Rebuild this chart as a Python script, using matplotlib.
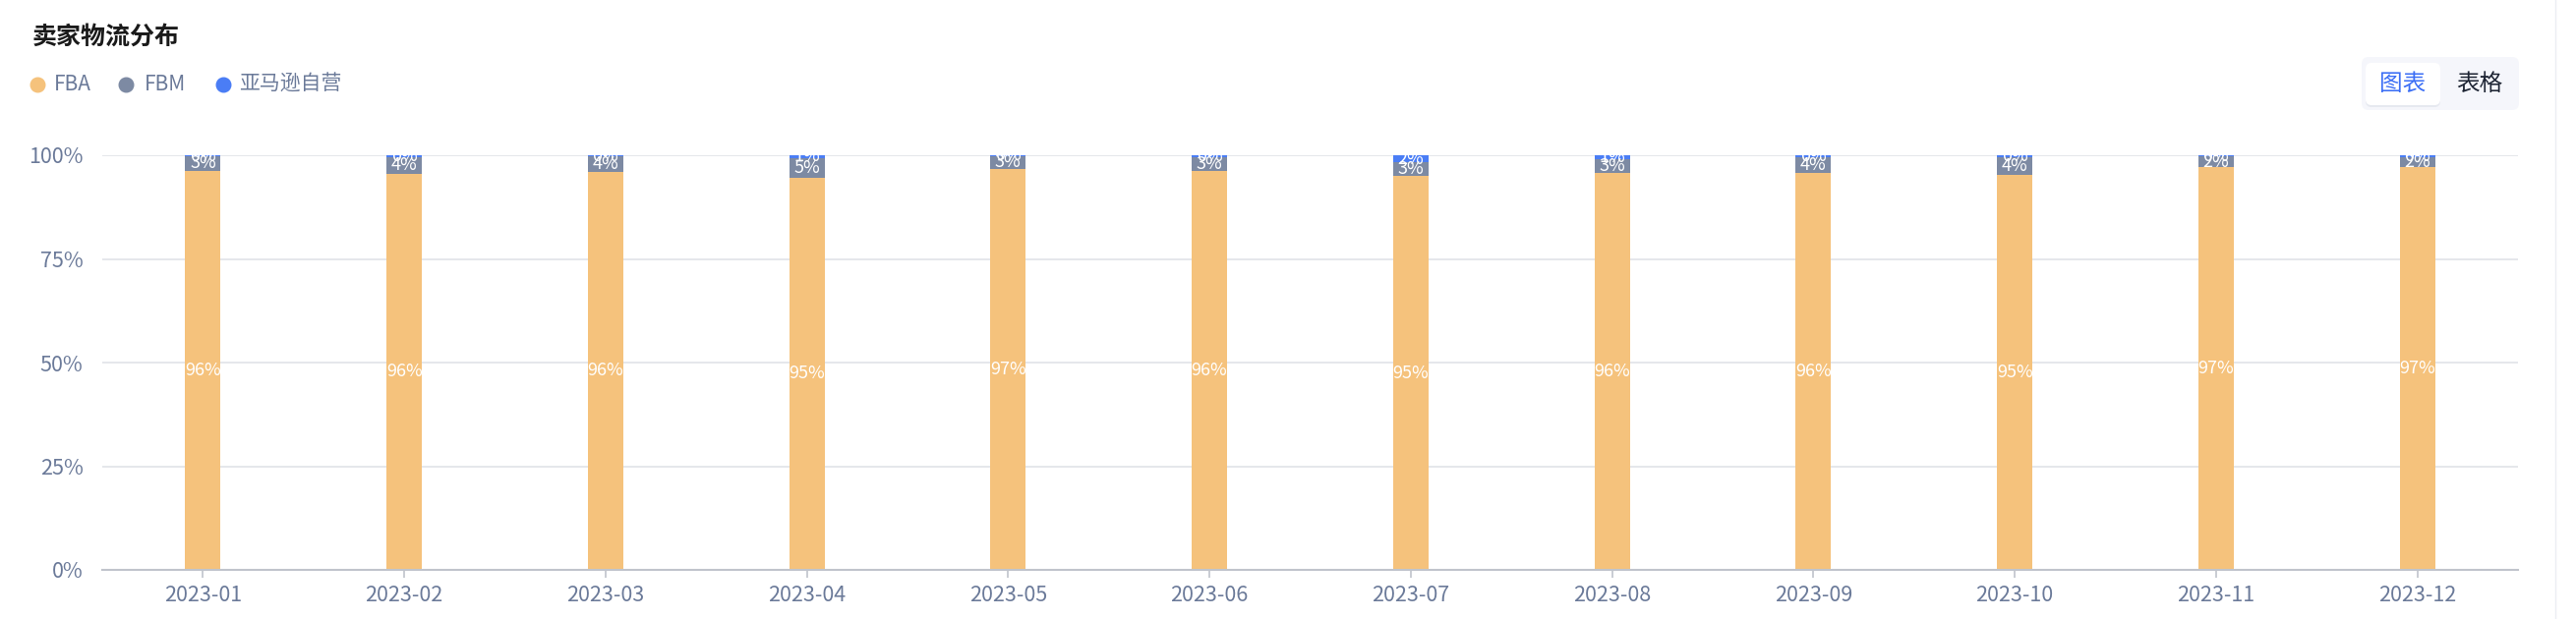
import matplotlib
matplotlib.use("Agg")
import matplotlib.pyplot as plt
import numpy as np
from matplotlib.patches import FancyBboxPatch
from matplotlib.lines import Line2D
from matplotlib.transforms import IdentityTransform

plt.rcParams['font.family'] = ['Noto Sans CJK SC', 'DejaVu Sans']

months = ["2023-01", "2023-02", "2023-03", "2023-04", "2023-05", "2023-06",
          "2023-07", "2023-08", "2023-09", "2023-10", "2023-11", "2023-12"]
fba = [96.3, 95.6, 96.0, 94.6, 96.8, 96.2, 95.0, 95.8, 95.8, 95.2, 97.2, 97.2]
fbm = [3.4, 4.0, 3.7, 4.8, 3.0, 3.4, 3.3, 3.3, 3.8, 4.4, 2.5, 2.4]
amz = [0.3, 0.4, 0.3, 0.6, 0.2, 0.4, 1.7, 0.9, 0.4, 0.4, 0.3, 0.4]
series_names = ["FBA", "FBM", "亚马逊自营"]
yticks = [0, 25, 50, 75, 100]

colors = ["#f5c27c", "#7d8aa3", "#4a7df5"]
tick_color = "#6b7a99"

W, H = 2620, 630
fig = plt.figure(figsize=(W / 100, H / 100), dpi=100)
ax = fig.add_axes([104 / W, (H - 580) / H, (2561 - 104) / W, 422 / H])

x = np.arange(len(months))
bw = 0.176
bottom = np.zeros(len(months))
for vals, col in zip([fba, fbm, amz], colors):
    vals = np.array(vals)
    ax.bar(x, vals, bw, bottom=bottom, color=col, edgecolor='none', zorder=3)
    for xi, b, v in zip(x, bottom, vals):
        ax.text(xi, b + v / 2, f"{round(v)}%", ha='center', va='center',
                color='white', fontsize=13, zorder=4, clip_on=True)
    bottom = bottom + vals

ax.set_xlim(-0.5, len(months) - 0.5)
ax.set_ylim(0, 100)
ax.set_yticks(yticks)
ax.set_yticklabels([f"{t}%" for t in yticks])
ax.set_xticks(x)
ax.set_xticklabels(months)
ax.tick_params(axis='y', length=0, pad=14, labelsize=15.5, labelcolor=tick_color)
ax.tick_params(axis='x', length=6, width=1.2, color='#c0c4cc', pad=5,
               labelsize=15.5, labelcolor=tick_color)
ax.grid(axis='y', color='#e0e3e8', linewidth=1.2, zorder=0)
for s in ['top', 'right', 'left']:
    ax.spines[s].set_visible(False)
ax.spines['bottom'].set_color('#c0c4cc')
ax.spines['bottom'].set_linewidth(1.5)
ax.spines['bottom'].set_zorder(5)

# title
fig.text(33 / W, 1 - 38 / H, "卖家物流分布", fontsize=18, fontweight='bold',
         color='#1a1a1a', ha='left', va='center')

# legend
leg_items = [(38, 55), (128, 147), (227, 243)]
for (cx, tx), name, col in zip(leg_items, series_names, colors):
    fig.add_artist(Line2D([cx / W], [1 - 86 / H], marker='o', markersize=10.5,
                          color=col, linestyle='none', transform=fig.transFigure))
    fig.text(tx / W, 1 - 86 / H, name, fontsize=15, color=tick_color,
             ha='left', va='center')

# toggle buttons
outer = FancyBboxPatch((2402, H - 112), 160, 54, boxstyle="round,pad=0,rounding_size=7",
                       facecolor='#f5f6fb', edgecolor='none', transform=IdentityTransform())
shadow = FancyBboxPatch((2406, H - 109), 76, 44, boxstyle="round,pad=0,rounding_size=6",
                        facecolor='#e6e9f0', edgecolor='none', transform=IdentityTransform())
inner = FancyBboxPatch((2406, H - 107), 76, 43, boxstyle="round,pad=0,rounding_size=6",
                       facecolor='white', edgecolor='none', transform=IdentityTransform())
for p in (outer, shadow, inner):
    fig.add_artist(p)
fig.text(2444 / W, 1 - 85 / H, "图表", fontsize=17, color='#3b6ef5',
         ha='center', va='center')
fig.text(2522 / W, 1 - 85 / H, "表格", fontsize=17, color='#1d2433',
         ha='center', va='center')

# right panel divider
fig.add_artist(Line2D([2599 / W, 2599 / W], [0, 1], color='#eceef3', linewidth=1,
                      transform=fig.transFigure))

fig.savefig("out.png", dpi=100, facecolor='white')
